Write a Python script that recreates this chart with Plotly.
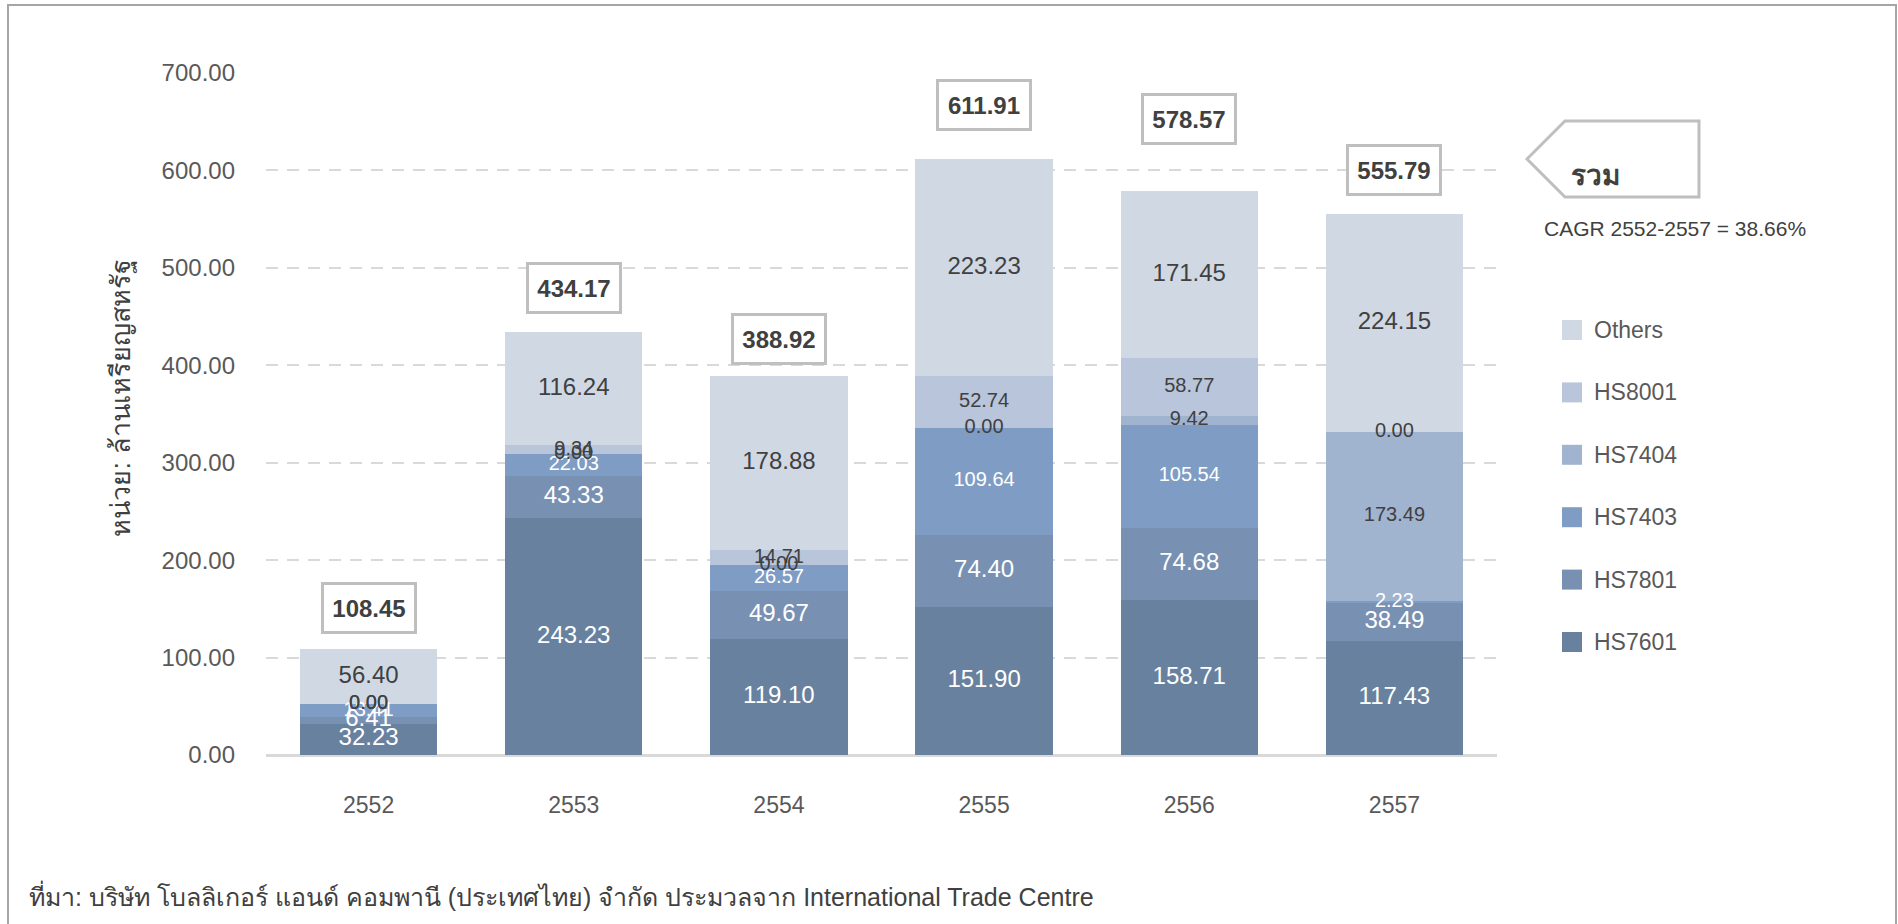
import plotly.graph_objects as go

# ---------------- data ----------------
years = ["2552", "2553", "2554", "2555", "2556", "2557"]
series_names = ["HS7601", "HS7801", "HS7403", "HS7404", "HS8001", "Others"]
hs7601 = [32.23, 243.23, 119.10, 151.90, 158.71, 117.43]
hs7801 = [6.41, 43.33, 49.67, 74.40, 74.68, 38.49]
hs7403 = [13.41, 22.03, 26.57, 109.64, 105.54, 2.23]
hs7404 = [0.00, 0.00, 0.00, 0.00, 9.42, 173.49]
hs8001 = [0.00, 9.34, 14.71, 52.74, 58.77, 0.00]
others = [56.40, 116.24, 178.88, 223.23, 171.45, 224.15]
totals = [108.45, 434.17, 388.92, 611.91, 578.57, 555.79]
y_tick_values = [0, 100, 200, 300, 400, 500, 600, 700]
y_title = "หน่วย: ล้านเหรียญสหรัฐ"
total_tag = "รวม"
cagr_text = "CAGR 2552-2557 = 38.66%"
source_text = "ที่มา: บริษัท โบลลิเกอร์ แอนด์ คอมพานี (ประเทศไทย) จำกัด ประมวลจาก International Trade Centre"

series_values = [hs7601, hs7801, hs7403, hs7404, hs8001, others]

# ---------------- style ----------------
W, H = 1898, 924
ML, MR, MT, MB = 266, 401, 73, 169
PW, PH = W - ML - MR, H - MT - MB

bar_colors = ["#68819f", "#7891b2", "#7f9dc4", "#a0b3cf", "#b8c5da", "#d0d8e4"]
label_colors = ["#ffffff", "#ffffff", "#ffffff", "#404040", "#404040", "#404040"]
label_sizes = [24, 24, 20, 20, 20, 24]
total_lift_px = [41, 44, 37, 54, 72, 44]
FONT = "Liberation Sans, Arial, sans-serif"
GRAY_TEXT = "#595959"
DARK_TEXT = "#404040"
BOX_GRAY = "#bfbfbf"


def px(x):
    return (x - ML) / PW


def py(y):
    return (H - MB - y) / PH


fig = go.Figure()

# stacked bars
for name, vals, col in zip(series_names, series_values, bar_colors):
    fig.add_trace(go.Bar(x=years, y=vals, name=name, marker=dict(color=col, line=dict(width=0)),
                         showlegend=False, hoverinfo="x+y+name"))

# segment labels (centred in each segment, computed from the data)
base = [0.0] * len(years)
for name, vals, lc, ls in zip(series_names, series_values, label_colors, label_sizes):
    mids = [b + v / 2 for b, v in zip(base, vals)]
    fig.add_trace(go.Scatter(x=years, y=mids, mode="text", text=[f"{v:.2f}" for v in vals],
                             textposition="middle center", textfont=dict(color=lc, size=ls, family=FONT),
                             showlegend=False, hoverinfo="skip", cliponaxis=False))
    base = [b + v for b, v in zip(base, vals)]

# totals in boxes (x given as category index)
for idx, (tot, lift) in enumerate(zip(totals, total_lift_px)):
    fig.add_annotation(x=idx, y=tot, yshift=lift, text=f"<b>{tot:.2f}</b>", showarrow=False,
                       font=dict(size=24, color=DARK_TEXT, family=FONT), bgcolor="white",
                       bordercolor=BOX_GRAY, borderwidth=3, borderpad=1, width=88, height=44,
                       xanchor="center", yanchor="middle")

# manual legend (top: Others ... bottom: HS7601)
leg_top, leg_step = 330, 62.4
for i, (name, col) in enumerate(zip(series_names[::-1], bar_colors[::-1])):
    cy = leg_top + i * leg_step
    fig.add_shape(type="rect", xref="paper", yref="paper", x0=px(1562), x1=px(1582),
                  y0=py(cy - 10), y1=py(cy + 10), fillcolor=col, line=dict(width=0))
    fig.add_annotation(xref="paper", yref="paper", x=px(1592), y=py(cy), text=name, showarrow=False,
                       xanchor="left", yanchor="middle", font=dict(size=23, color=GRAY_TEXT, family=FONT))

# "รวม" pentagon tag
pts = [(1527, 159), (1565, 121), (1699, 121), (1699, 197), (1565, 197)]
path = "M " + " L ".join(f"{px(a):.5f},{py(b):.5f}" for a, b in pts) + " Z"
fig.add_shape(type="path", xref="paper", yref="paper", path=path, line=dict(color=BOX_GRAY, width=3),
              fillcolor="white")
fig.add_annotation(xref="paper", yref="paper", x=px(1622), y=py(158), text=f"<b>{total_tag}</b>",
                   showarrow=False, font=dict(size=28, color=DARK_TEXT, family=FONT))
fig.add_annotation(xref="paper", yref="paper", x=px(1542), y=py(228), text=cagr_text, showarrow=False,
                   xanchor="left", yanchor="middle", font=dict(size=21, color=DARK_TEXT, family=FONT))

# y-axis title
fig.add_annotation(xref="paper", yref="paper", x=px(103), y=py(398), text=y_title, textangle=-90,
                   showarrow=False, font=dict(size=27, color=DARK_TEXT, family=FONT))

# source footnote
fig.add_annotation(xref="paper", yref="paper", x=px(27), y=py(895), text=source_text, showarrow=False,
                   xanchor="left", yanchor="middle", font=dict(size=25, color=DARK_TEXT, family=FONT))

# outer frame
fig.add_shape(type="rect", xref="paper", yref="paper", x0=px(8), x1=px(1896), y0=py(980), y1=py(5),
              line=dict(color="#a6a6a6", width=2), fillcolor="rgba(0,0,0,0)")

fig.update_layout(
    width=W, height=H, margin=dict(l=ML, r=MR, t=MT, b=MB, autoexpand=False),
    barmode="stack", bargap=0.33, plot_bgcolor="white", paper_bgcolor="white",
    font=dict(family=FONT, color=GRAY_TEXT),
    showlegend=False,
)
fig.update_yaxes(range=[0, 700], tickvals=y_tick_values, tickformat=".2f",
                 tickfont=dict(size=24, color=GRAY_TEXT, family=FONT),
                 showgrid=True, gridcolor="#d9d9d9", gridwidth=2, griddash="12px,9px",
                 zeroline=True, zerolinecolor="#d9d9d9", zerolinewidth=2,
                 ticks="", ticklabelstandoff=30, showline=False)
fig.update_xaxes(type="category", range=[-0.5, len(years) - 0.5],
                 tickfont=dict(size=23, color=GRAY_TEXT, family=FONT),
                 showline=True, linecolor="#d9d9d9", linewidth=2, ticks="", ticklabelstandoff=28,
                 showgrid=False)

fig.write_html("out.html", config={"displayModeBar": False},
               post_script="document.body.style.margin='0px';")
